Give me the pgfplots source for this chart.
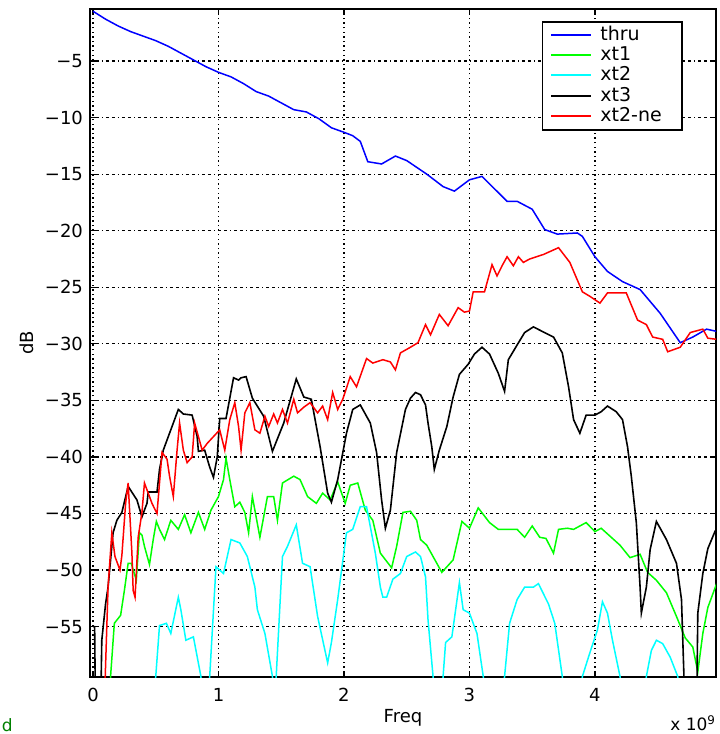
\documentclass[border=0pt]{standalone}
\usepackage{pgfplots}
\pgfplotsset{compat=1.18}
\usepackage{fontspec}
\setmainfont{DejaVu Sans}
\definecolor{mblue}{RGB}{0,0,255}
\definecolor{mgreen}{RGB}{0,255,0}
\definecolor{mcyan}{RGB}{0,255,255}
\definecolor{mred}{RGB}{255,0,0}
\definecolor{dgreen}{RGB}{0,128,0}
\newcommand\lgd[1]{\makebox[36pt][l]{#1}}

\begin{document}
\begin{tikzpicture}
\begin{axis}[
    scale only axis,
    width=313pt, height=334pt,
    xmin=-0.024, xmax=4.965, ymin=-59.45, ymax=-0.4,
    xtick={0,1,2,3,4}, xticklabels={0,1,2,3,4},
    ytick={-55,-50,-45,-40,-35,-30,-25,-20,-15,-10,-5},
    yticklabels={−55,−50,−45,−40,−35,−30,−25,−20,−15,−10,−5},
    tick align=inside, major tick length=3pt,
    every tick/.style={black, line width=0.6pt},
    axis line style={line width=0.8pt},
    tick label style={font=\fontsize{9}{10}\selectfont},
    xticklabel style={yshift=-2pt},
    xmajorgrids, ymajorgrids,
    x grid style={black, line width=0.75pt, dash pattern=on 0.7pt off 1.6pt},
    y grid style={black, line width=0.6pt, dash pattern=on 1.5pt off 1.5pt on 1.5pt off 1.5pt on 0.5pt off 1.5pt},
    xlabel={Freq}, ylabel={dB},
    every axis x label/.style={at={(rel axis cs:0.5,0)}, yshift=-20.5pt, anchor=center, font=\fontsize{9}{10}\selectfont},
    every axis y label/.style={at={(rel axis cs:0,0.5)}, xshift=-31.5pt, rotate=90, anchor=center, font=\fontsize{9}{10}\selectfont},
    legend style={at={(rel axis cs:0.947,0.982)}, anchor=north east, draw=black, line width=0.8pt, fill=white,
        font=\fontsize{9.5}{10}\selectfont, inner xsep=4pt, inner ysep=1.5pt, row sep=0pt, column sep=3.2pt,
        nodes={inner sep=0.8pt, text height=6.8pt, text depth=1.8pt}},
    legend cell align=left,
    legend image code/.code={\draw[#1, line width=1pt] (0pt,0.25pt) -- (20pt,0.25pt);},
]
\coordinate (bl) at (rel axis cs:0,0);
\coordinate (tr) at (rel axis cs:1,1);

% thru
\addplot[color=mblue, line width=0.75pt] coordinates {
(0,-0.6) (0.1,-1.3) (0.2,-1.9) (0.3,-2.4) (0.4,-2.8) (0.5,-3.2) (0.6,-3.7) (0.7,-4.3)
(0.8,-4.9) (0.9,-5.5) (1.0,-6.0) (1.1,-6.4) (1.2,-7.0) (1.3,-7.7) (1.4,-8.1) (1.5,-8.7)
(1.6,-9.3) (1.7,-9.5) (1.8,-10.1) (1.9,-10.9) (2.0,-11.3) (2.07,-11.6) (2.13,-12.1)
(2.19,-13.9) (2.30,-14.1) (2.41,-13.4) (2.50,-13.8) (2.66,-15.0) (2.79,-16.1) (2.88,-16.5)
(3.00,-15.5) (3.10,-15.2) (3.20,-16.3) (3.30,-17.4) (3.38,-17.4) (3.50,-18.1) (3.60,-19.9)
(3.70,-20.3) (3.86,-20.2) (3.90,-20.5) (4.00,-22.3) (4.10,-23.6) (4.22,-24.5) (4.36,-25.2)
(4.52,-27.3) (4.68,-29.9) (4.78,-29.4) (4.89,-28.7) (4.97,-28.9)
};
\addlegendentry{\lgd{thru}}

% xt1
\addplot[color=mgreen, line width=0.75pt] coordinates {
(0.13,-63) (0.14,-59.4) (0.17,-54.7) (0.22,-54.0) (0.25,-51.8) (0.28,-49.4) (0.305,-49.4)
(0.345,-50.9) (0.37,-46.7) (0.39,-46.9) (0.41,-47.9) (0.45,-49.5) (0.48,-47.3) (0.505,-45.7)
(0.53,-46.4) (0.57,-47.3) (0.62,-45.6) (0.68,-46.4) (0.73,-45.1) (0.78,-46.7) (0.84,-44.9)
(0.89,-46.4) (0.94,-44.7) (1.0,-43.5) (1.04,-42.0) (1.06,-40.1) (1.09,-42.0) (1.13,-44.4)
(1.17,-44.0) (1.21,-44.9) (1.24,-46.7) (1.27,-43.5) (1.33,-47.1) (1.39,-43.5) (1.44,-43.5)
(1.46,-44.9) (1.47,-45.6) (1.51,-42.3) (1.60,-41.7) (1.65,-42.0) (1.71,-43.5) (1.78,-44.1)
(1.83,-43.2) (1.89,-43.8) (1.95,-42.2) (2.01,-44.1) (2.05,-42.5) (2.11,-42.3) (2.17,-44.7)
(2.23,-45.6) (2.29,-48.5) (2.38,-49.8) (2.42,-47.9) (2.47,-44.9) (2.53,-44.8) (2.58,-45.6)
(2.61,-47.3) (2.66,-47.8) (2.78,-50.2) (2.87,-49.1) (2.94,-45.7) (3.00,-46.3) (3.07,-44.5)
(3.16,-45.8) (3.23,-46.4) (3.38,-46.4) (3.44,-47.1) (3.50,-46.1) (3.56,-47.1) (3.61,-47.2)
(3.67,-48.5) (3.71,-46.4) (3.78,-46.3) (3.83,-46.4) (3.93,-45.8) (4.00,-46.6) (4.05,-46.3)
(4.14,-47.2) (4.20,-47.8) (4.28,-48.9) (4.36,-48.6) (4.42,-50.2) (4.49,-50.9) (4.57,-52.0)
(4.65,-54.1) (4.72,-56.0) (4.78,-56.8) (4.82,-59.0) (4.86,-55.6) (4.90,-53.3) (4.97,-51.2)
};
\addlegendentry{\lgd{xt1}}

% xt2
\addplot[color=mcyan, line width=0.75pt] coordinates {
(0.48,-63) (0.50,-59.4) (0.53,-54.9) (0.585,-54.7) (0.62,-55.6) (0.68,-52.4) (0.70,-53.5)
(0.74,-56.2) (0.80,-55.9) (0.86,-59.4) (0.88,-63) (0.91,-63) (0.93,-59.4) (0.98,-49.7)
(1.04,-50.3) (1.10,-47.3) (1.17,-47.6) (1.23,-48.8) (1.29,-51.5) (1.31,-53.5) (1.37,-55.6)
(1.43,-59.4) (1.445,-62) (1.46,-59.4) (1.51,-48.8) (1.55,-47.9) (1.62,-46.0) (1.67,-49.4)
(1.73,-49.7) (1.79,-54.1) (1.87,-58.2) (1.90,-56.4) (1.95,-52.6) (2.02,-46.7) (2.07,-46.4)
(2.13,-44.4) (2.18,-44.4) (2.25,-48.5) (2.29,-51.5) (2.31,-52.4) (2.34,-52.4) (2.39,-50.8)
(2.45,-50.3) (2.50,-48.8) (2.57,-48.4) (2.61,-48.8) (2.65,-50.6) (2.67,-54.4) (2.71,-59.4)
(2.74,-63) (2.77,-63) (2.79,-59.4) (2.81,-56.4) (2.86,-55.9) (2.92,-51.1) (2.95,-53.5)
(3.00,-53.8) (3.06,-55.6) (3.11,-59.4) (3.14,-63) (3.25,-63) (3.28,-59.4) (3.32,-54.7)
(3.38,-52.6) (3.44,-51.5) (3.51,-51.5) (3.55,-51.2) (3.63,-53.0) (3.68,-54.7) (3.74,-59.4)
(3.77,-63) (3.87,-63) (3.90,-59.4) (3.96,-57.3) (4.02,-55.3) (4.06,-52.8) (4.10,-53.8)
(4.14,-56.2) (4.20,-59.4) (4.23,-63) (4.38,-63) (4.41,-59.4) (4.45,-57.1) (4.49,-56.2)
(4.54,-56.5) (4.60,-57.7) (4.66,-59.4) (4.69,-63)
};
\addlegendentry{\lgd{xt2}}

% xt3
\addplot[color=black, line width=0.8pt] coordinates {
(0,-55) (0.013,-55) (0.02,-63) (0.06,-63) (0.07,-56.2) (0.10,-53.0) (0.12,-51.5) (0.16,-46.7)
(0.19,-45.6) (0.23,-44.9) (0.28,-42.6) (0.35,-43.8) (0.39,-45.3) (0.43,-44.1) (0.44,-43.1)
(0.51,-43.1) (0.53,-41.1) (0.56,-39.4) (0.59,-38.5) (0.68,-35.8) (0.72,-36.2) (0.79,-36.3)
(0.83,-38.2) (0.84,-39.5) (0.89,-39.4) (0.93,-40.9) (0.96,-41.8) (0.99,-40.0) (1.01,-36.6)
(1.06,-36.6) (1.12,-33.0) (1.16,-33.2) (1.18,-33.0) (1.22,-32.9) (1.27,-34.8) (1.36,-36.4)
(1.43,-39.5) (1.52,-37.0) (1.62,-33.1) (1.68,-34.7) (1.74,-34.9) (1.81,-39.1) (1.87,-43.2)
(1.90,-44.0) (1.95,-42.0) (2.02,-37.9) (2.07,-35.8) (2.13,-35.4) (2.21,-37.0) (2.26,-39.6)
(2.30,-43.8) (2.33,-46.3) (2.37,-44.7) (2.42,-39.6) (2.49,-35.8) (2.53,-34.8) (2.57,-34.3)
(2.61,-34.5) (2.65,-35.4) (2.67,-37.0) (2.70,-39.1) (2.72,-41.1) (2.76,-39.4) (2.82,-37.3)
(2.87,-34.7) (2.92,-32.7) (2.99,-31.8) (3.04,-30.9) (3.10,-30.3) (3.16,-30.9) (3.23,-32.6)
(3.28,-34.2) (3.31,-31.4) (3.38,-30.1) (3.44,-29.0) (3.51,-28.5) (3.58,-28.9) (3.67,-29.4)
(3.74,-30.8) (3.79,-33.8) (3.83,-36.7) (3.88,-37.9) (3.93,-36.3) (4.00,-36.3) (4.05,-36.0)
(4.10,-35.5) (4.17,-36.0) (4.22,-36.7) (4.26,-39.1) (4.29,-41.7) (4.33,-45.8) (4.36,-51.5)
(4.37,-53.8) (4.41,-51.5) (4.44,-48.2) (4.49,-45.7) (4.57,-47.3) (4.65,-49.4) (4.69,-52.6)
(4.72,-63) (4.81,-63) (4.82,-53.8) (4.86,-50.3) (4.90,-48.1) (4.96,-46.5)
};
\addlegendentry{\lgd{xt3}}

% xt2-ne
\addplot[color=mred, line width=0.75pt] coordinates {
(0.09,-62) (0.12,-51.5) (0.15,-46.7) (0.175,-48.8) (0.215,-50.0) (0.23,-48.7) (0.26,-44.1)
(0.28,-42.3) (0.31,-48.5) (0.32,-51.8) (0.335,-52.4) (0.36,-47.1) (0.39,-44.9) (0.41,-42.3)
(0.44,-43.2) (0.47,-44.1) (0.51,-45.0) (0.55,-39.6) (0.59,-40.2) (0.61,-41.7) (0.64,-43.5)
(0.67,-39.4) (0.69,-37.0) (0.72,-39.4) (0.75,-40.5) (0.79,-40.0) (0.81,-37.0) (0.84,-38.2)
(0.87,-39.4) (0.91,-38.8) (0.96,-38.2) (1.01,-37.6) (1.05,-39.4) (1.09,-36.7) (1.13,-35.2)
(1.16,-37.3) (1.18,-39.4) (1.21,-36.1) (1.25,-35.2) (1.29,-37.6) (1.33,-37.9) (1.37,-36.4)
(1.40,-37.3) (1.44,-36.2) (1.47,-37.0) (1.51,-35.8) (1.55,-37.0) (1.60,-34.9) (1.63,-36.1)
(1.68,-35.6) (1.73,-35.2) (1.79,-36.1) (1.83,-35.5) (1.87,-36.7) (1.91,-34.3) (1.95,-35.8)
(1.99,-34.9) (2.05,-32.9) (2.10,-33.8) (2.18,-31.3) (2.23,-31.7) (2.31,-31.4) (2.37,-31.6)
(2.41,-32.3) (2.45,-30.8) (2.53,-30.3) (2.59,-29.9) (2.65,-28.3) (2.69,-29.2) (2.76,-27.4)
(2.83,-28.4) (2.91,-26.8) (2.96,-27.2) (3.00,-27.1) (3.03,-25.4) (3.12,-25.4) (3.18,-23.0)
(3.22,-24.0) (3.26,-23.1) (3.30,-22.3) (3.35,-23.1) (3.39,-22.3) (3.43,-22.8) (3.48,-22.5)
(3.59,-22.1) (3.71,-21.5) (3.80,-22.8) (3.90,-25.4) (3.96,-25.8) (4.04,-26.4) (4.10,-25.5)
(4.25,-25.5) (4.34,-27.9) (4.41,-28.3) (4.46,-29.4) (4.54,-29.6) (4.58,-30.7) (4.68,-30.3)
(4.76,-29.0) (4.86,-28.7) (4.90,-29.5) (4.97,-29.6)
};
\addlegendentry{\lgd{xt2-ne}}
\end{axis}
\node[anchor=east, font=\fontsize{8.5}{10}\selectfont, inner sep=0pt] at ([xshift=0.2pt, yshift=-23.2pt]bl -| tr) {x 10\textsuperscript{9}};
\node[anchor=south west, font=\fontsize{8.5}{10}\selectfont, text=dgreen, inner sep=0pt] at ([xshift=-44.2pt, yshift=-27.6pt]bl) {d};
\pgfresetboundingbox
\useasboundingbox ([shift={(-45pt,-28.5pt)}]bl) rectangle ([shift={(1.5pt,4.5pt)}]tr);
\end{tikzpicture}
\end{document}
